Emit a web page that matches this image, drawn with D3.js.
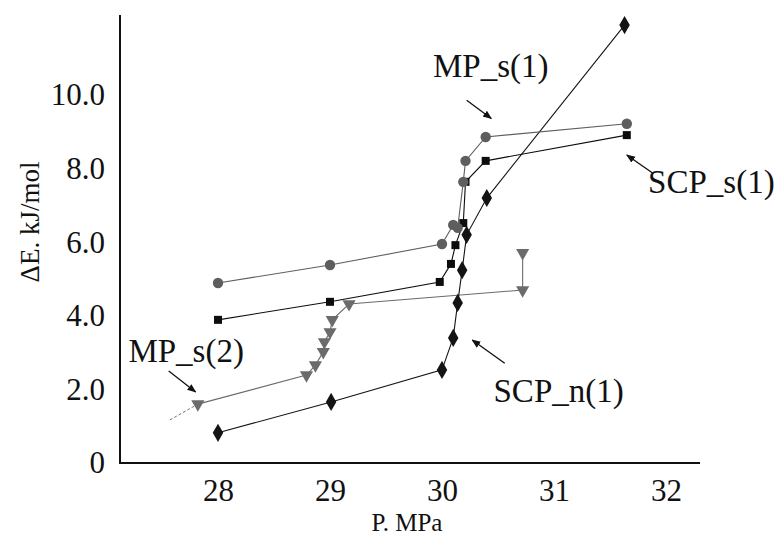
<!DOCTYPE html>
<html>
<head>
<meta charset="utf-8">
<script src="https://cdn.jsdelivr.net/npm/d3@7"></script>
<style>
  body { margin: 0; background: #fff; }
  svg { display: block; }
  text { font-family: "Liberation Serif", "Times New Roman", Times, "DejaVu Serif", serif; fill: #111; }
</style>
</head>
<body>
<div class="chart"></div>
<script>
/*
----------------------------------------------------------
                   data
----------------------------------------------------------
*/
// P, MPa  /  dE, kJ/mol
var mpS1 = [
	[28.0, 4.89], [29.0, 5.38], [30.0, 5.95], [30.1, 6.47], [30.14, 6.39],
	[30.19, 7.64], [30.21, 8.21], [30.39, 8.86], [31.65, 9.22]
];
var scpS1 = [
	[28.0, 3.89], [29.0, 4.38], [29.98, 4.92], [30.08, 5.41], [30.12, 5.92],
	[30.19, 6.52], [30.21, 7.64], [30.39, 8.21], [31.65, 8.91]
];
var scpN1 = [
	[28.0, 0.82], [29.01, 1.66], [30.0, 2.53], [30.1, 3.40], [30.14, 4.35],
	[30.18, 5.24], [30.22, 6.20], [30.4, 7.20], [31.63, 11.90]
];
var mpS2 = [
	[27.82, 1.60], [28.79, 2.39], [28.87, 2.66], [28.94, 3.02], [28.95, 3.29],
	[29.0, 3.56], [29.02, 3.89], [29.17, 4.32], [30.72, 4.70], [30.72, 5.71]
];
// the MP_s(2) line runs on below its first point, without a marker
var mpS2Tail = [[27.57, 1.17], [27.82, 1.60]];

var xTicks = [28, 29, 30, 31, 32];
var yTicks = [0, 2, 4, 6, 8, 10];

// label text, label anchor [P, dE], arrow from / to [P, dE]
var notes = [
	{ text: "MP_s(1)",  at: [29.92, 10.5],  from: [30.22, 9.86], to: [30.44, 9.36] },
	{ text: "SCP_s(1)", at: [31.84, 7.34],  from: [31.88, 7.88], to: [31.65, 8.37] },
	{ text: "SCP_n(1)", at: [30.46, 1.66],  from: [30.56, 2.71], to: [30.27, 3.34] },
	{ text: "MP_s(2)",  at: [27.2, 2.75],   from: [27.56, 2.5],  to: [27.8, 1.93] }
];

/*
----------------------------------------------------------
                   the chart
----------------------------------------------------------
*/
var width = 783;
var height = 537;
var serif = '"Liberation Serif", "Times New Roman", Times, "DejaVu Serif", serif';

var x = d3.scaleLinear().domain([28, 32]).range([218, 666]);
var y = d3.scaleLinear().domain([0, 10]).range([463, 95]);

var svg = d3.select(".chart")
	.append("svg")
		.attr("width", width)
		.attr("height", height);

svg.append("defs").append("marker")
	.attr("id", "head")
	.attr("viewBox", "0 0 10 10")
	.attr("refX", 9)
	.attr("refY", 5)
	.attr("markerWidth", 9)
	.attr("markerHeight", 9)
	.attr("markerUnits", "userSpaceOnUse")
	.attr("orient", "auto")
	.append("path")
		.attr("d", "M0,1 L10,5 L0,9 z")
		.attr("fill", "#111");

// axes: the lines, then the labels through d3 axes
svg.append("line")
	.attr("x1", 120).attr("x2", 120)
	.attr("y1", 15).attr("y2", y(0))
	.attr("stroke", "#111").attr("stroke-width", 2);
svg.append("line")
	.attr("x1", 119).attr("x2", 700)
	.attr("y1", y(0)).attr("y2", y(0))
	.attr("stroke", "#111").attr("stroke-width", 2);

var xAxis = svg.append("g")
	.attr("transform", "translate(0," + y(0) + ")")
	.call(d3.axisBottom(x).tickValues(xTicks).tickSize(0).tickPadding(16).tickFormat(d3.format("d")));
var yAxis = svg.append("g")
	.attr("transform", "translate(105,0)")
	.call(d3.axisLeft(y).tickValues(yTicks).tickSize(0).tickPadding(0)
		.tickFormat(function(d) { return d == 0 ? "0" : d.toFixed(1); }));

[xAxis, yAxis].forEach(function(a) {
	a.attr("font-family", null);
	a.select(".domain").remove();
	a.selectAll("text")
		.style("font-family", serif)
		.style("font-size", "31px")
		.attr("fill", "#222");
});

svg.append("text")
	.attr("x", 407).attr("y", 531)
	.attr("text-anchor", "middle")
	.style("font-family", serif)
	.style("font-size", "25px")
	.text("P. MPa");
svg.append("text")
	.attr("transform", "translate(39,222) rotate(-90)")
	.attr("text-anchor", "middle")
	.style("font-family", serif)
	.style("font-size", "27px")
	.text("\u0394E.  kJ/mol");

// series
var line = d3.line()
	.x(function(d) { return x(d[0]); })
	.y(function(d) { return y(d[1]); });

var series = [
	{ data: mpS2,  color: "#6b6b6b", shape: "tri" },
	{ data: scpN1, color: "#141414", shape: "diamond" },
	{ data: scpS1, color: "#0d0d0d", shape: "square" },
	{ data: mpS1,  color: "#5e5e5e", shape: "circle" }
];

svg.append("path")
	.attr("d", line(mpS2Tail))
	.attr("fill", "none")
	.attr("stroke", "#777")
	.attr("stroke-width", 1)
	.attr("stroke-dasharray", "3,2");

var shapes = {
	circle:  d3.symbol().type(d3.symbolCircle).size(85),
	square:  d3.symbol().type(d3.symbolSquare).size(64),
	diamond: d3.symbol().type(d3.symbolDiamond).size(95),
	tri:     d3.symbol().type(d3.symbolTriangle).size(75)
};

series.forEach(function(s) {
	svg.append("path")
		.attr("d", line(s.data))
		.attr("fill", "none")
		.attr("stroke", s.color)
		.attr("stroke-width", 1.1);

	svg.append("g").selectAll("path").data(s.data).enter()
		.append("path")
			.attr("d", shapes[s.shape])
			.attr("fill", s.color)
			.attr("transform", function(d) {
				var r = s.shape == "tri" ? " rotate(180)" : "";
				return "translate(" + x(d[0]) + "," + y(d[1]) + ")" + r;
			});
});

// annotations
notes.forEach(function(n) {
	svg.append("text")
		.attr("x", x(n.at[0]))
		.attr("y", y(n.at[1]))
		.style("font-family", serif)
		.style("font-size", "33px")
		.text(n.text);
	svg.append("line")
		.attr("x1", x(n.from[0])).attr("y1", y(n.from[1]))
		.attr("x2", x(n.to[0])).attr("y2", y(n.to[1]))
		.attr("stroke", "#111")
		.attr("stroke-width", 1.3)
		.attr("marker-end", "url(#head)");
});
</script>
</body>
</html>
